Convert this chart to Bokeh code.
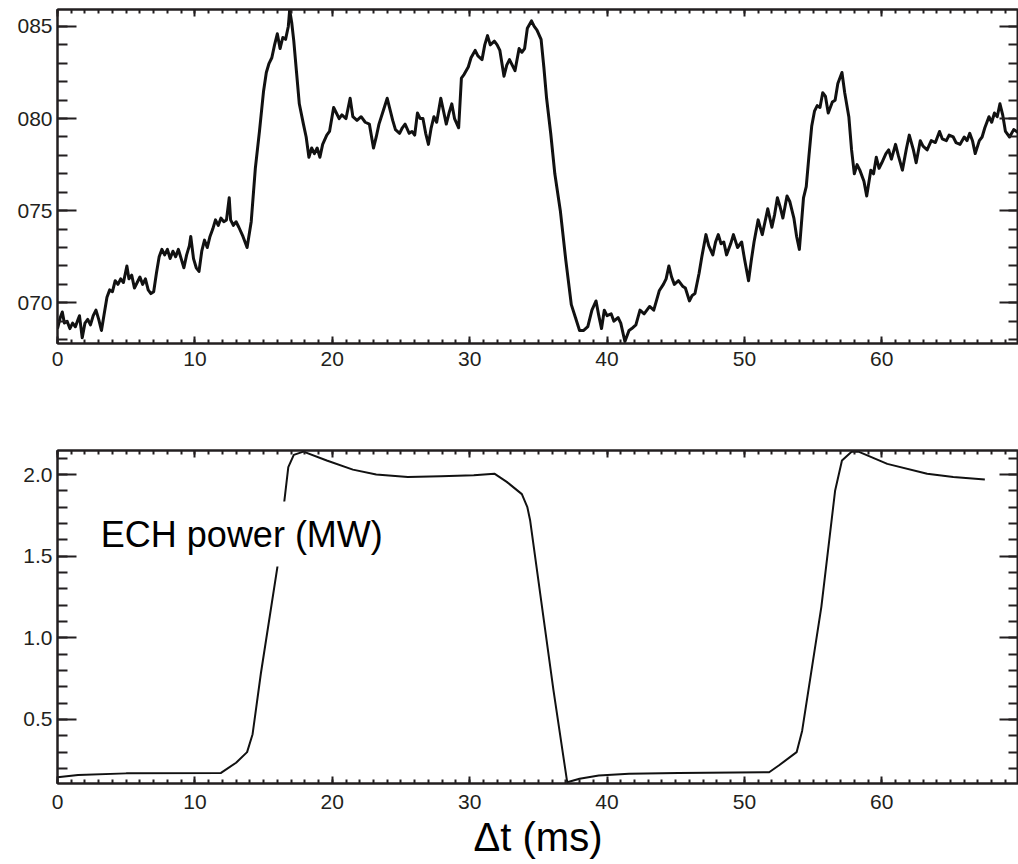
from bokeh.plotting import figure
from bokeh.models import (LinearAxis, SingleIntervalTicker, PrintfTickFormatter, Label, Range1d,
                          CustomJSTickFormatter)
from bokeh.layouts import column
from bokeh.embed import file_html
from bokeh.resources import INLINE

# ---------------- data ----------------
# top panel: time (ms) and signal (units of 1e-3, labelled "0xx")
t_top = [0.0, 0.2, 0.35, 0.5, 0.7, 0.9, 1.1, 1.3, 1.5, 1.6, 1.8, 2.0, 2.2, 2.4, 2.6, 2.8, 3.0, 3.2, 3.4, 3.6,
         3.8, 4.0, 4.2, 4.4, 4.6, 4.8, 5.05, 5.2, 5.4, 5.6, 5.8, 6.0, 6.2, 6.4, 6.6, 6.8, 7.0, 7.2, 7.4, 7.6,
         7.8, 8.0, 8.2, 8.4, 8.6, 8.8, 9.0, 9.2, 9.4, 9.6, 9.7, 9.9, 10.1, 10.3, 10.5, 10.7, 10.9, 11.1, 11.3, 11.5,
         11.7, 11.9, 12.1, 12.3, 12.5, 12.6, 12.8, 13.0, 13.2, 13.5, 13.8, 14.1, 14.4, 14.7, 15.0, 15.2, 15.4, 15.6, 15.8, 16.0,
         16.2, 16.4, 16.6, 16.8, 16.9, 17.05, 17.2, 17.4, 17.6, 17.9, 18.1, 18.3, 18.5, 18.7, 18.9, 19.1, 19.3, 19.6, 19.8, 20.1,
         20.3, 20.5, 20.7, 21.0, 21.3, 21.5, 21.8, 22.1, 22.4, 22.7, 23.0, 23.2, 23.4, 23.7, 24.0, 24.2, 24.4, 24.6, 24.9, 25.1,
         25.3, 25.6, 25.8, 26.0, 26.2, 26.4, 26.6, 26.8, 27.0, 27.2, 27.4, 27.6, 27.9, 28.1, 28.3, 28.5, 28.7, 28.9, 29.2, 29.4,
         29.6, 29.9, 30.1, 30.4, 30.6, 30.9, 31.1, 31.3, 31.5, 31.8, 32.0, 32.2, 32.5, 32.7, 32.9, 33.1, 33.3, 33.6, 33.8, 34.0,
         34.2, 34.5, 34.7, 34.9, 35.2, 35.4, 35.6, 35.9, 36.2, 36.6, 37.0, 37.4, 37.7, 38.0, 38.3, 38.6, 38.9, 39.2, 39.4, 39.6,
         39.8, 40.0, 40.3, 40.5, 40.8, 41.0, 41.3, 41.6, 41.8, 42.1, 42.4, 42.7, 43.1, 43.4, 43.8, 44.1, 44.3, 44.5, 44.7, 44.9,
         45.2, 45.5, 45.7, 46.0, 46.2, 46.4, 46.7, 46.9, 47.2, 47.4, 47.7, 47.9, 48.1, 48.3, 48.5, 48.7, 49.0, 49.2, 49.5, 49.8,
         50.0, 50.3, 50.5, 50.7, 51.0, 51.3, 51.5, 51.7, 52.0, 52.2, 52.4, 52.6, 52.8, 53.1, 53.3, 53.6, 53.8, 54.0, 54.3, 54.5,
         54.7, 54.9, 55.1, 55.3, 55.5, 55.7, 55.9, 56.1, 56.4, 56.6, 56.8, 57.1, 57.3, 57.6, 57.8, 58.0, 58.2, 58.4, 58.7, 58.9,
         59.2, 59.4, 59.6, 59.8, 60.0, 60.3, 60.5, 60.7, 61.0, 61.2, 61.5, 61.8, 62.0, 62.3, 62.5, 62.8, 63.0, 63.3, 63.6, 63.9,
         64.2, 64.4, 64.7, 64.9, 65.2, 65.4, 65.7, 66.0, 66.2, 66.4, 66.6, 66.8, 67.1, 67.3, 67.5, 67.8, 68.0, 68.2, 68.4, 68.6,
         68.8, 69.0, 69.3, 69.6, 70.0]
v_top = [68.6, 69.2, 69.5, 68.9, 69.0, 68.6, 68.9, 68.7, 69.1, 69.3, 68.1, 68.9, 69.1, 68.8, 69.3, 69.6, 69.1, 68.5, 69.4, 70.3,
         70.7, 70.6, 71.2, 71.0, 71.3, 71.1, 72.0, 71.3, 71.5, 70.8, 71.1, 71.4, 71.0, 71.3, 70.7, 70.5, 70.6, 71.6, 72.5, 72.9,
         72.6, 72.9, 72.4, 72.8, 72.5, 72.9, 72.4, 71.9, 72.6, 73.1, 73.6, 72.4, 71.9, 71.7, 72.8, 73.4, 73.0, 73.6, 74.0, 74.5,
         74.2, 74.6, 74.4, 74.5, 75.7, 74.5, 74.2, 74.4, 74.1, 73.6, 73.0, 74.4, 77.3, 79.3, 81.5, 82.5, 83.0, 83.3, 84.0, 84.6,
         83.8, 84.4, 84.3, 85.0, 85.9, 85.2, 84.2, 82.5, 80.8, 79.7, 79.0, 77.9, 78.4, 78.1, 78.4, 77.9, 78.6, 79.1, 79.3, 80.6,
         80.3, 80.0, 80.2, 80.0, 81.1, 80.1, 79.9, 80.1, 79.8, 79.7, 78.4, 79.0, 79.7, 80.4, 81.1, 80.5, 79.9, 79.4, 79.2, 79.5,
         79.7, 79.2, 79.3, 79.1, 80.3, 80.0, 80.0, 79.2, 78.6, 79.5, 80.1, 79.8, 81.1, 80.4, 79.7, 80.3, 80.8, 80.0, 79.5, 82.2,
         82.4, 82.8, 83.3, 83.7, 83.4, 83.2, 84.0, 84.5, 84.0, 84.2, 84.0, 83.7, 82.3, 82.9, 83.2, 82.9, 82.6, 83.8, 83.6, 83.8,
         84.9, 85.3, 85.0, 84.8, 84.3, 82.8, 81.1, 79.2, 77.0, 75.0, 72.3, 69.9, 69.2, 68.5, 68.5, 68.7, 69.6, 70.1, 69.3, 68.6,
         69.6, 69.3, 69.4, 69.0, 69.2, 68.9, 67.9, 68.5, 68.6, 68.8, 69.6, 69.4, 69.8, 69.6, 70.65, 71.0, 71.3, 72.0, 71.4, 71.0,
         71.2, 70.9, 70.8, 70.1, 70.4, 70.5, 71.6, 72.5, 73.7, 73.1, 72.6, 73.3, 73.7, 73.2, 73.3, 72.6, 73.2, 73.7, 73.0, 73.3,
         72.4, 71.2, 72.3, 73.3, 74.5, 73.7, 74.4, 75.1, 74.1, 74.8, 75.7, 75.2, 74.6, 75.8, 75.5, 74.6, 73.6, 72.9, 75.7, 76.3,
         78.0, 79.6, 80.4, 80.7, 80.6, 81.4, 81.2, 80.3, 80.9, 81.0, 81.9, 82.5, 81.4, 80.1, 78.3, 77.0, 77.5, 77.2, 76.6, 75.8,
         77.2, 77.0, 77.9, 77.3, 77.6, 78.1, 78.3, 77.8, 78.6, 78.0, 77.2, 78.4, 79.1, 78.3, 77.6, 78.8, 78.5, 78.3, 78.8, 78.7,
         79.3, 78.9, 78.8, 79.1, 79.0, 78.7, 78.6, 79.0, 78.8, 79.2, 78.8, 78.1, 78.8, 79.0, 79.5, 80.1, 79.8, 80.3, 80.1, 80.8,
         80.2, 79.3, 79.0, 79.4, 79.2]

# bottom panel: ECH power (MW)
t_ech = [0.0, 1.5, 5.0, 11.9, 13.0, 13.8, 14.2, 14.8, 16.0, 16.5, 16.8, 17.2, 17.9, 19.6, 21.5, 23.2, 25.5, 27.9, 30.3, 31.8,
         32.7, 33.8, 34.2, 34.4, 36.1, 37.1, 38.0, 39.4, 41.6, 45.2, 51.8, 52.5, 53.8, 54.2, 55.6, 56.6, 57.1, 57.8, 58.3, 60.4,
         63.3, 65.2, 67.5]
p_ech = [0.146, 0.160, 0.170, 0.173, 0.235, 0.300, 0.410, 0.780, 1.430, 1.830, 2.045, 2.120, 2.140, 2.086, 2.030, 2.000, 1.985, 1.990, 1.995, 2.005,
         1.955, 1.880, 1.800, 1.720, 0.680, 0.116, 0.137, 0.157, 0.167, 0.173, 0.177, 0.218, 0.300, 0.430, 1.190, 1.900, 2.086, 2.140, 2.140, 2.065,
         2.005, 1.985, 1.970]

x_ticks_major = 10
top_y_major = 5
bot_y_major = 0.5
ech_label = "ECH power (MW)"
x_title = "\u0394t (ms)"

# ---------------- style ----------------
INK = "#231f20"
FONT = "Liberation Sans"
BLANK = CustomJSTickFormatter(code="return ''")


def style_axis(ax, major_in, minor_in, show_labels, size="21px", standoff=6):
    ax.major_tick_in = major_in
    ax.major_tick_out = 0
    ax.minor_tick_in = minor_in
    ax.minor_tick_out = 0
    ax.axis_line_color = INK
    ax.axis_line_width = 2
    ax.major_tick_line_color = INK
    ax.major_tick_line_width = 2
    ax.minor_tick_line_color = INK
    ax.minor_tick_line_width = 2
    ax.major_label_text_font = FONT
    ax.major_label_text_color = INK
    ax.major_label_text_font_size = size
    ax.major_label_standoff = standoff
    if not show_labels:
        ax.formatter = BLANK
        ax.major_label_standoff = 0


def make_fig(y0, y1, fh, btop, bbot, ymaj, xlab_standoff, fmt):
    p = figure(frame_width=974, frame_height=fh, output_backend="svg", toolbar_location=None,
               x_range=Range1d(0, 69.95), y_range=Range1d(y0, y1),
               x_axis_location=None, y_axis_location=None,
               min_border_left=57, min_border_right=0, min_border_top=btop, min_border_bottom=bbot,
               background_fill_color="white", border_fill_color="white")
    p.xgrid.visible = False
    p.ygrid.visible = False
    p.outline_line_color = INK
    p.outline_line_width = 2
    axes = {}
    for loc, show in (("below", True), ("above", False)):
        ax = LinearAxis(ticker=SingleIntervalTicker(interval=x_ticks_major, num_minor_ticks=10))
        style_axis(ax, 7, 4, show, "21px", xlab_standoff)
        p.add_layout(ax, loc)
        axes[loc] = ax
    for loc, show in (("left", True), ("right", False)):
        ax = LinearAxis(ticker=SingleIntervalTicker(interval=ymaj, num_minor_ticks=5))
        if show:
            ax.formatter = fmt
        style_axis(ax, 19, 10, show, "21px", 5)
        p.add_layout(ax, loc)
        axes[loc] = ax
    return p, axes


p1, ax1 = make_fig(67.79, 85.92, 334, 9, 97, top_y_major, 8, PrintfTickFormatter(format="0%d"))
p1.line(t_top, v_top, line_color="#111111", line_width=3, line_join="round")

p2, ax2 = make_fig(0.108, 2.147, 333, 10, 81, bot_y_major, 11, PrintfTickFormatter(format="%.1f"))
p2.line(t_ech, p_ech, line_color="#111111", line_width=2, line_join="round")
xb = ax2["below"]
xb.axis_label = x_title
xb.axis_label_text_font = FONT
xb.axis_label_text_font_size = "40px"
xb.axis_label_text_font_style = "normal"
xb.axis_label_text_color = "black"
xb.axis_label_standoff = 3

lbl = Label(x=2.28, y=1.635, text=ech_label, text_font=FONT, text_font_size="36px",
            text_color="black", text_align="left", text_baseline="alphabetic",
            background_fill_color="white", background_fill_alpha=1.0, padding=12)
p2.add_layout(lbl)

layout = column(p1, p2, spacing=0, width=1018, styles={"overflow": "hidden"})
open("out.html", "w").write(file_html(layout, INLINE))
